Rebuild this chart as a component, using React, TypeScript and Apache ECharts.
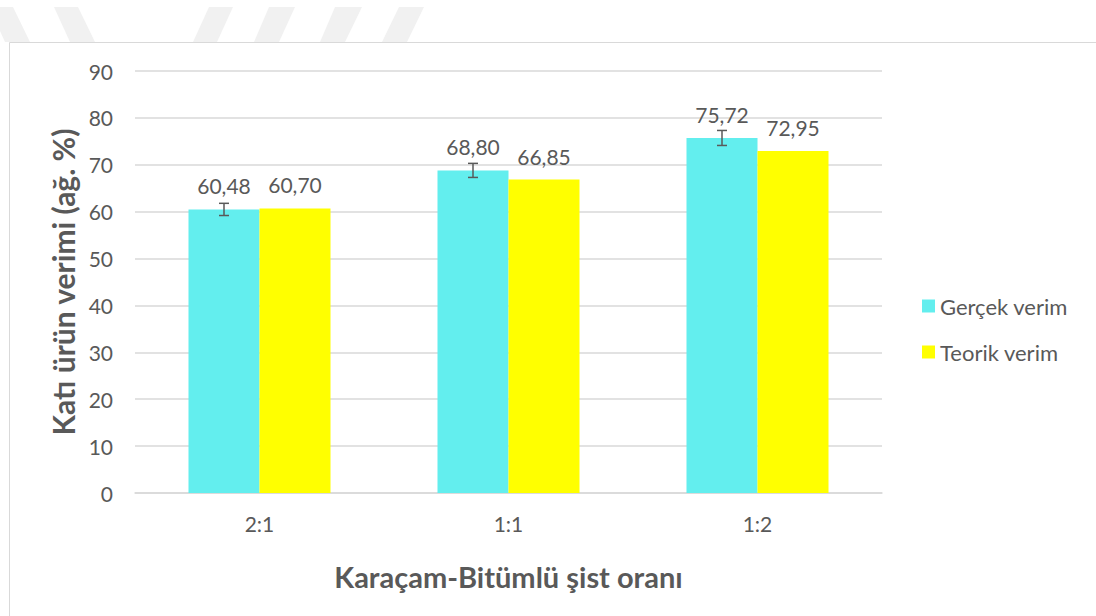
import React, { useEffect, useRef } from "react";
import * as echarts from "echarts";

const categories = ["2:1", "1:1", "1:2"];
const gercekVerim = [60.48, 68.8, 75.72];
const teorikVerim = [60.7, 66.85, 72.95];
const gercekHata = [1.3, 1.5, 1.6];
const seriesNames = ["Gerçek verim", "Teorik verim"];
const yTicks = { min: 0, max: 90, interval: 10 };

const FONT = "Lato, 'Open Sans', sans-serif";
const TXT = "#595959";
const FS = 21;
const TITLE_FS = 29;

const stripes: number[][][] = [
  [[-11, 7], [13, 7], [30, 42], [5, 42]],
  [[54, 7], [78, 7], [95, 42], [70, 42]],
  [[209, 7], [233, 7], [217, 42], [193, 42]],
  [[269, 7], [295, 7], [279, 42], [254, 42]],
  [[335, 7], [362, 7], [345, 42], [320, 42]],
  [[399, 7], [424, 7], [407, 42], [382, 42]],
];

const fmt = (v: number) => v.toFixed(2).replace(".", ",");

export default function App() {
  const ref = useRef<HTMLDivElement>(null);
  useEffect(() => {
    if (!ref.current) return;
    const chart = echarts.init(ref.current, null, { renderer: "svg" });
    const BAR_W = 71;
    const labelCfg = {
      show: true,
      position: "top",
      distance: 13,
      color: TXT,
      fontSize: FS,
      fontFamily: FONT,
      formatter: (p: any) => fmt(p.value),
    };
    chart.setOption({
      animation: false,
      backgroundColor: "#ffffff",
      textStyle: { fontFamily: FONT },
      graphic: [
        ...stripes.map((pts) => ({
          type: "polygon",
          shape: { points: pts },
          style: { fill: "#f1f1f1" },
          silent: true,
          z: -10,
        })),
        {
          type: "rect",
          shape: { x: 9.5, y: 42.5, width: 1200, height: 700 },
          style: { fill: "#ffffff", stroke: "#d9d9d9", lineWidth: 1 },
          silent: true,
          z: -5,
        },
      ],
      grid: { left: 135, right: 214, top: 71, bottom: 123, containLabel: false },
      legend: {
        orient: "vertical",
        left: 917,
        top: 290,
        itemWidth: 13,
        itemHeight: 13,
        itemGap: 24,
        icon: "rect",
        data: seriesNames,
        textStyle: { color: TXT, fontSize: 22, fontFamily: FONT },
      },
      xAxis: {
        type: "category",
        data: categories,
        axisLine: { lineStyle: { color: "#d9d9d9", width: 1.5 } },
        axisTick: { show: false },
        axisLabel: { color: TXT, fontSize: FS, margin: 20, fontFamily: FONT },
        name: "Karaçam-Bitümlü şist oranı",
        nameLocation: "middle",
        nameGap: 69,
        nameTextStyle: { color: TXT, fontSize: TITLE_FS, fontWeight: "bold", fontFamily: FONT },
      },
      yAxis: {
        type: "value",
        min: yTicks.min,
        max: yTicks.max,
        interval: yTicks.interval,
        axisLine: { show: false },
        axisTick: { show: false },
        splitLine: { lineStyle: { color: "#d9d9d9", width: 1.5 } },
        axisLabel: { color: TXT, fontSize: FS, margin: 22, fontFamily: FONT },
        name: "Katı ürün verimi (ağ. %)",
        nameLocation: "middle",
        nameGap: 55,
        nameTextStyle: { color: TXT, fontSize: 30, fontWeight: "bold", fontFamily: FONT },
      },
      series: [
        {
          name: seriesNames[0],
          type: "bar",
          data: gercekVerim,
          barWidth: BAR_W,
          barGap: "0%",
          itemStyle: { color: "#63EEEE" },
          label: labelCfg,
        },
        {
          name: seriesNames[1],
          type: "bar",
          data: teorikVerim,
          barWidth: BAR_W,
          barGap: "0%",
          itemStyle: { color: "#FFFF00" },
          label: labelCfg,
        },
        {
          type: "custom",
          name: "hata",
          z: 10,
          data: gercekVerim.map((v, i) => [i, v - gercekHata[i], v + gercekHata[i]]),
          renderItem: (params: any, api: any) => {
            const i = api.value(0);
            const lo = api.coord([i, api.value(1)]);
            const hi = api.coord([i, api.value(2)]);
            const x = lo[0] - BAR_W / 2;
            const cap = 5;
            const style = { stroke: "#595959", lineWidth: 1.5 };
            return {
              type: "group",
              children: [
                { type: "line", shape: { x1: x, y1: lo[1], x2: x, y2: hi[1] }, style },
                { type: "line", shape: { x1: x - cap, y1: lo[1], x2: x + cap, y2: lo[1] }, style },
                { type: "line", shape: { x1: x - cap, y1: hi[1], x2: x + cap, y2: hi[1] }, style },
              ],
            };
          },
        },
      ],
    });
    return () => chart.dispose();
  }, []);
  return (
    <div
      ref={ref}
      style={{ position: "fixed", left: 0, top: 0, width: 1096, height: 616 }}
    />
  );
}
